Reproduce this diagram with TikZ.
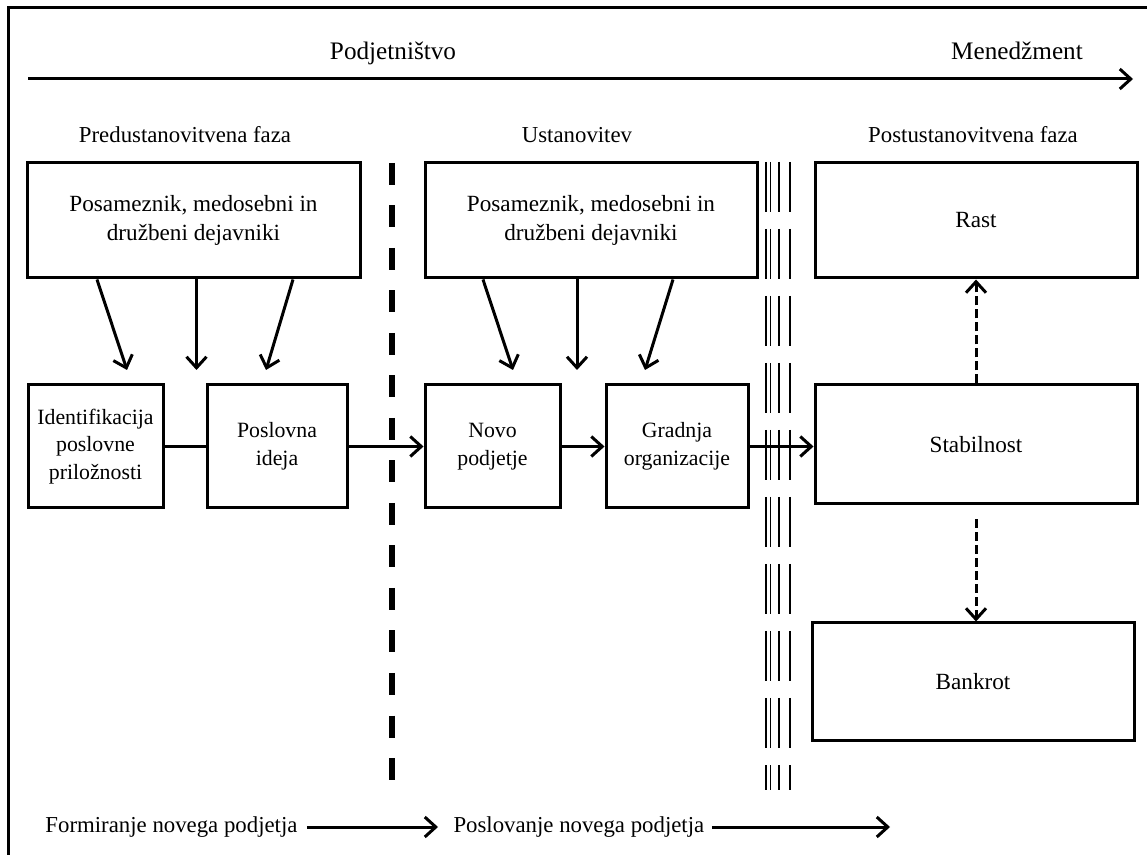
\documentclass[tikz,border=0pt]{standalone}
\usepackage{fontspec}
\setmainfont{Liberation Serif}
\usetikzlibrary{arrows.meta}

\begin{document}
\begin{tikzpicture}[x=0.5pt, y=-0.5pt, line width=1.5pt,
    box node/.style={draw, align=center, inner sep=0pt, font=\fontsize{11.6}{14.5}\selectfont},
    step node/.style={box node, minimum height=61.5pt, font=\fontsize{10.9}{13.8}\selectfont},
    text node/.style={inner sep=2pt, font=\fontsize{11.4}{14}\selectfont},
    foot node/.style={inner sep=2pt, anchor=west, font=\fontsize{11.4}{14}\selectfont},
    head node/.style={inner sep=2pt, anchor=base, font=\fontsize{12.6}{14}\selectfont},
    flow/.style={-{Straight Barb[length=5.5pt, width=10pt]}},
    guess flow/.style={flow, dash pattern=on 4.5pt off 2pt},
    border line/.style={line width=3pt, dash pattern=on 11pt off 10.25pt},
    bar line/.style={line width=0.7pt, dash pattern=on 25pt off 8.5pt}]
\useasboundingbox (0,0) rectangle (1147,855);
% frame
\draw (8,855) -- (8,8) -- (1147,8);
% top axis
\node[head node] (podj) at (393,60) {Podjetništvo};
\node[head node] (mene) at (1017,60) {Menedžment};
\coordinate (axisL) at (28,79);
\coordinate (axisR) at (1133,79);
\draw[flow] (axisL) -- (axisR);
% phases
\node[text node] (pred) at (185,135) {Predustanovitvena faza};
\node[text node] (ust) at (577,135) {Ustanovitev};
\node[text node] (post) at (973,135) {Postustanovitvena faza};
% boxes
\node[box node, minimum width=166.5pt, minimum height=57.5pt] (factA) at (193.5,220.5) {Posameznik, medosebni in\\družbeni dejavniki};
\node[box node, minimum width=166pt, minimum height=57.5pt] (factB) at (591,220.5) {Posameznik, medosebni in\\družbeni dejavniki};
\node[box node, minimum width=161pt, minimum height=57.5pt] (rast) at (976,220.5) {Rast};
\node[step node, minimum width=67.5pt] (ident) at (95.5,446.5) {Identifikacija\\poslovne\\priložnosti};
\node[step node, minimum width=70pt] (ideja) at (277,446.5) {Poslovna\\ideja};
\node[step node, minimum width=67.5pt] (novo) at (492.5,446.5) {Novo\\podjetje};
\node[step node, minimum width=71pt] (gradnja) at (677,446.5) {Gradnja\\organizacije};
\node[box node, minimum width=161pt, minimum height=59.5pt] (stab) at (976,444.5) {Stabilnost};
\node[box node, minimum width=161pt, minimum height=58.5pt] (bankrot) at (973,681.5) {Bankrot};
% separators
\draw[border line] (392,163) -- (392,790);
\foreach \x in {766,770.5,779,790}
    \draw[bar line] (\x,162) -- (\x,790);
% factor arrows
\coordinate (a1) at (127,370);
\coordinate (a2) at (196.5,370);
\coordinate (a3) at (266,370);
\coordinate (b1) at (513,370);
\coordinate (b2) at (577,370);
\coordinate (b3) at (645,370);
\draw[flow] ([xshift=-48.25pt]factA.south) -- (a1);
\draw[flow] (factA.south -| a2) -- (a2);
\draw[flow] ([xshift=49.75pt]factA.south) -- (a3);
\draw[flow] ([xshift=-54pt]factB.south) -- (b1);
\draw[flow] (factB.south -| b2) -- (b2);
\draw[flow] ([xshift=41pt]factB.south) -- (b3);
% main flow
\draw (ident) -- (ideja);
\draw[flow] (ideja) -- (novo);
\draw[flow] (novo) -- (gradnja);
\draw[flow] (gradnja.east) -- (gradnja.east -| stab.west);
\draw[guess flow] (stab.north) -- (rast.south);
\draw[guess flow] ([yshift=-7pt]stab.south) -- (stab.south |- bankrot.north);
% bottom
\node[foot node] (form) at (40,827) {Formiranje novega podjetja};
\node[foot node] (posl) at (448,827) {Poslovanje novega podjetja};
\coordinate (endR) at (890,827);
\draw[flow] ([xshift=2pt]form.east) -- ([xshift=-5pt]posl.west);
\draw[flow] ([xshift=1pt]posl.east) -- (endR);
\end{tikzpicture}
\end{document}
